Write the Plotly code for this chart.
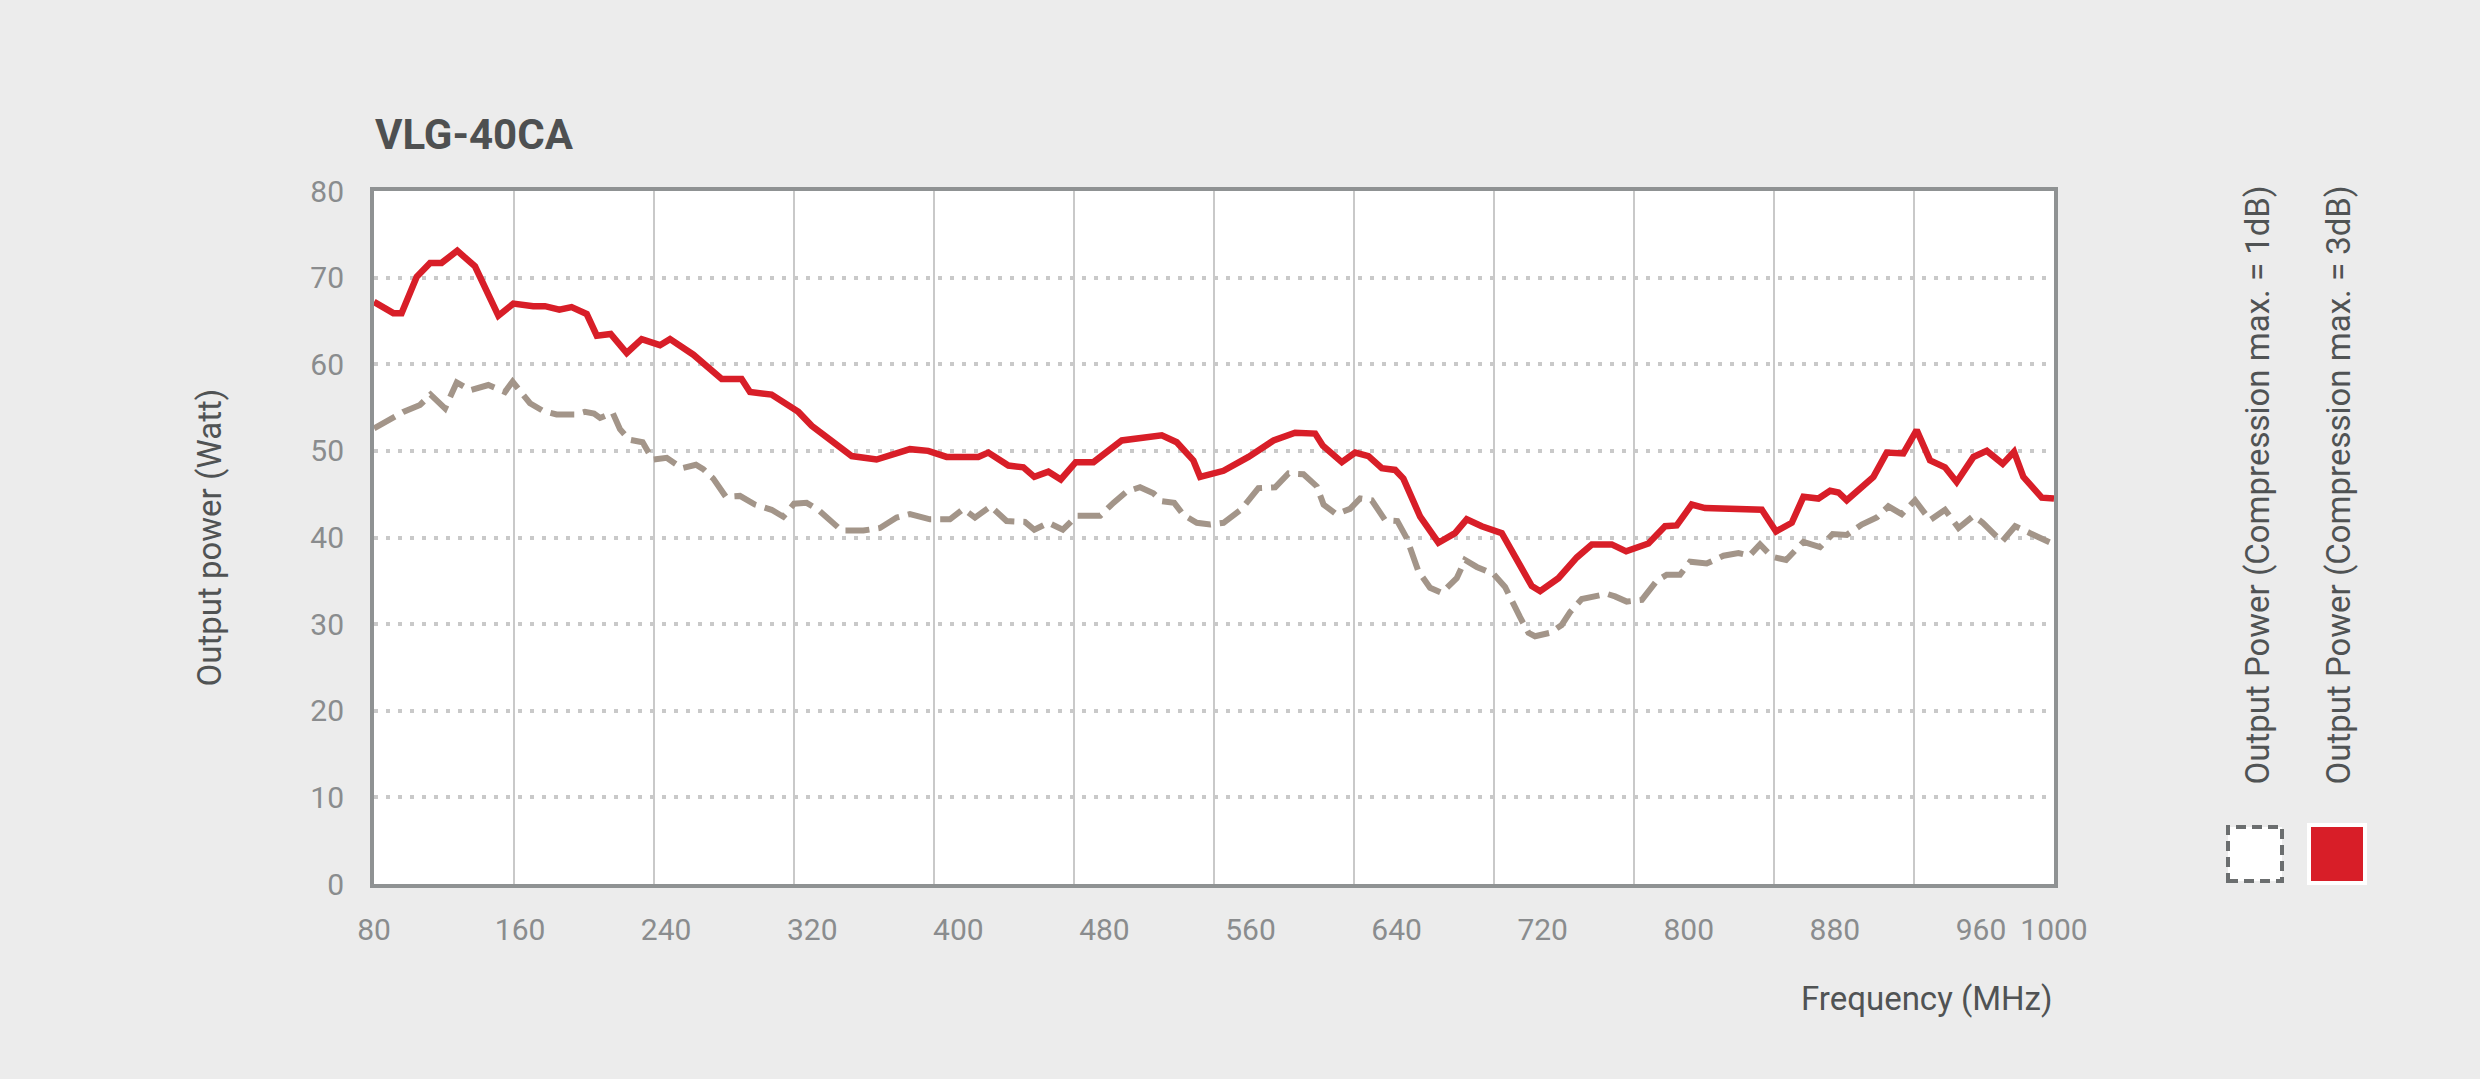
import plotly.graph_objects as go

# ---------------- data ----------------
freq_3db = [80, 90.6, 95.1, 103.4, 110.7, 117, 125.6, 135.3, 148.1, 156.3, 167.2, 173.6, 181.5, 188.2,
            196.5, 202, 209.6, 218.4, 226.6, 236.6, 242.1, 254.9, 270.4, 281.3, 285.9, 297.7, 312.4,
            319.7, 329.7, 341.6, 355.2, 364.4, 373.5, 383.5, 393.6, 404.5, 410.9, 416.4, 427.4, 435.6,
            441.6, 449.3, 456.1, 464.3, 474, 489.5, 499.5, 511.4, 519.6, 528.7, 532.4, 545.2, 558.9,
            572.6, 584.4, 595.4, 599.6, 610, 617.3, 624.6, 631.9, 639.2, 643.7, 652.9, 662.9, 672,
            678.4, 686.6, 697.6, 706.7, 714, 718.6, 728.6, 738.7, 746.9, 757.8, 765.7, 777.9, 787,
            793.4, 801.6, 808.9, 819, 840, 847.8, 856.4, 862.8, 871, 877.4, 882, 886.5, 893.8, 901.1,
            908.4, 917.5, 924.8, 932.1, 940.3, 946.7, 955.9, 963.2, 971.9, 978.1, 983.2, 993.3, 1000]
power_3db = [67.2, 65.9, 65.9, 70.1, 71.7, 71.7, 73.1, 71.3, 65.6, 67.0, 66.7, 66.7, 66.3, 66.6,
             65.8, 63.3, 63.5, 61.3, 62.9, 62.2, 62.9, 61.1, 58.3, 58.3, 56.8, 56.5, 54.5,
             52.9, 51.3, 49.4, 49.0, 49.7, 50.2, 50.0, 49.3, 49.3, 49.3, 49.8, 48.3, 48.1,
             47.0, 47.6, 46.7, 48.7, 48.7, 51.2, 51.5, 51.8, 51.0, 48.9, 47.0, 47.7, 49.3,
             51.2, 52.1, 52.0, 50.6, 48.7, 49.8, 49.4, 48.0, 47.8, 46.8, 42.4, 39.4, 40.5,
             42.1, 41.3, 40.5, 37.2, 34.4, 33.8, 35.3, 37.7, 39.2, 39.2, 38.4, 39.3, 41.3,
             41.4, 43.8, 43.4, 43.3, 43.2, 40.7, 41.7, 44.7, 44.5, 45.4, 45.2, 44.3, 45.6, 47.0,
             49.8, 49.7, 52.4, 48.9, 48.1, 46.4, 49.3, 50.0, 48.5, 49.9, 47.0, 44.6, 44.5]

freq_1db = [80, 96, 105.2, 111, 118.9, 125.3, 132.6, 142.6, 151.7, 155.9, 165.4, 172.7, 180, 190.1,
            195.5, 200.5, 203.8, 210.7, 214.7, 219.8, 227.1, 232.6, 240.3, 248.5, 256.3, 260.3,
            265.8, 272.7, 280.4, 288.6, 297.7, 304.1, 310, 316.9, 323.3, 327.9, 336.1, 348, 357.1,
            366.2, 373.5, 384.5, 395.4, 402.7, 409.1, 417.7, 426.4, 436.5, 441.6, 449.3, 457.2,
            464.9, 477.6, 484.9, 492.2, 499.5, 506.8, 511.4, 518.2, 523.3, 530.6, 537.9, 545.2,
            555.2, 564.3, 573.5, 580.8, 589, 596.3, 600, 606.9, 614.5, 620, 626.4, 633.7, 640.4,
            645.6, 651.9, 658.3, 664.7, 672.9, 677.5, 683.9, 693, 699.4, 707.6, 712.2, 715.8,
            724.1, 730.4, 735, 741.4, 755.1, 759.6, 766, 774.3, 782.5, 787.9, 795.2, 800.7, 809.8,
            819, 827.2, 833.2, 839, 845.4, 853.3, 862.8, 871.9, 878.8, 886.5, 894.7, 902.9, 909.3,
            916.6, 923.9, 932.1, 940.3, 947.7, 955.9, 961, 971.4, 978.7, 986.9, 1000]
power_1db = [52.6, 54.5, 55.3, 56.5, 54.9, 57.9, 57.0, 57.6, 56.8, 58.0, 55.5, 54.6, 54.2, 54.2,
             54.5, 54.3, 53.8, 54.4, 52.5, 51.3, 51.0, 49.0, 49.2, 48.0, 48.4, 47.9,
             46.8, 44.7, 44.8, 43.8, 43.2, 42.4, 43.9, 44.0, 43.2, 42.4, 40.8, 40.8, 41.1,
             42.3, 42.7, 42.1, 42.1, 43.3, 42.3, 43.6, 41.9, 41.8, 40.9, 41.7, 40.9,
             42.5, 42.5, 44.0, 45.3, 45.8, 45.1, 44.2, 44.0, 42.6, 41.7, 41.5, 41.7,
             43.3, 45.7, 45.8, 47.4, 47.3, 45.9, 43.8, 42.7, 43.3, 44.5, 44.3, 42.0, 41.9,
             39.9, 36.1, 34.2, 33.6, 35.3, 37.4, 36.6, 35.8, 34.3, 30.8, 29.0, 28.6,
             29.0, 29.9, 31.4, 32.9, 33.5, 33.2, 32.6, 32.8, 35.0, 35.7, 35.7, 37.2, 37.0,
             37.9, 38.2, 37.9, 39.2, 37.8, 37.4, 39.5, 38.9, 40.4, 40.3, 41.5, 42.3, 43.6,
             42.7, 44.3, 42.0, 43.2, 41.1, 42.5, 41.7, 39.5, 41.3, 40.5, 39.2]

x_ticks = [80, 160, 240, 320, 400, 480, 560, 640, 720, 800, 880, 960, 1000]
y_ticks = [0, 10, 20, 30, 40, 50, 60, 70, 80]

title_text = "VLG-40CA"
x_title = "Frequency (MHz)"
y_title = "Output power (Watt)"
name_1db = "Output Power (Compression max. = 1dB)"
name_3db = "Output Power (Compression max. = 3dB)"

# ---------------- styling ----------------
W, H = 2480, 1079
L, R, T, B = 374, 2054, 191, 884      # plot area in pixels
FONT = "Roboto, Liberation Sans, sans-serif"
RED = "#d81e28"
TAUPE = "#a39589"
BG = "#ececec"
BORDER = "#8f9293"
GRID = "#c9c9c9"
TXT = "#505354"
TICK = "#8a8c8e"


def px(xp):
    return (xp - L) / (R - L)


def py(yp):
    return (B - yp) / (B - T)


xmin, xmax = 80, 1000
fig = go.Figure()
fig.add_trace(go.Scatter(x=freq_1db, y=power_1db, mode="lines", name=name_1db,
                         line=dict(color=TAUPE, width=6, dash="24px,9px"), showlegend=False))
fig.add_trace(go.Scatter(x=freq_3db, y=power_3db, mode="lines", name=name_3db,
                         line=dict(color=RED, width=6.5), showlegend=False))

shapes = []
n_div = 12
for k in range(1, n_div):
    gx = xmin + k * (xmax - xmin) / n_div
    shapes.append(dict(type="line", xref="x", yref="paper", x0=gx, x1=gx, y0=0, y1=1,
                       line=dict(color=GRID, width=2), layer="below"))

# legend swatches
shapes.append(dict(type="rect", xref="paper", yref="paper",
                   x0=px(2228), x1=px(2282), y0=py(881), y1=py(827),
                   fillcolor="white", line=dict(color="#6b6e6f", width=4, dash="10px,6px")))
shapes.append(dict(type="rect", xref="paper", yref="paper",
                   x0=px(2309), x1=px(2365), y0=py(883), y1=py(825),
                   fillcolor=RED, line=dict(color="white", width=4)))

annotations = [
    dict(text=f"<b>{title_text}</b>", xref="paper", yref="paper", x=px(373), y=py(134),
         xanchor="left", yanchor="middle", showarrow=False,
         font=dict(family=FONT, size=42, color="#4e5051")),
    dict(text=y_title, xref="paper", yref="paper", x=px(209), y=0.5, textangle=-90,
         xanchor="center", yanchor="middle", showarrow=False,
         font=dict(family=FONT, size=33, color=TXT)),
    dict(text=x_title, xref="paper", yref="paper", x=1.0, y=py(999),
         xanchor="right", yanchor="middle", showarrow=False,
         font=dict(family=FONT, size=33, color=TXT)),
    dict(text=name_1db, xref="paper", yref="paper", x=px(2257), y=py(787), textangle=-90,
         xanchor="center", yanchor="bottom", showarrow=False,
         font=dict(family=FONT, size=33, color=TXT)),
    dict(text=name_3db, xref="paper", yref="paper", x=px(2338), y=py(787), textangle=-90,
         xanchor="center", yanchor="bottom", showarrow=False,
         font=dict(family=FONT, size=33, color=TXT)),
]

fig.update_layout(
    width=W, height=H, autosize=False,
    margin=dict(l=L, r=W - R, t=T, b=H - B, pad=0),
    paper_bgcolor=BG, plot_bgcolor="white",
    showlegend=False,
    shapes=shapes, annotations=annotations,
    xaxis=dict(range=[xmin, xmax], tickmode="array", tickvals=x_ticks,
               ticktext=[str(v) for v in x_ticks], showgrid=False, zeroline=False,
               showline=True, mirror=True, linewidth=4, linecolor=BORDER,
               ticks="", ticklabelstandoff=16,
               tickfont=dict(family=FONT, size=30, color=TICK)),
    yaxis=dict(range=[0, 80], tickmode="array", tickvals=y_ticks,
               showgrid=True, gridcolor=GRID, gridwidth=4, griddash="4px,8px",
               zeroline=False, showline=True, mirror=True, linewidth=4, linecolor=BORDER,
               ticks="", ticklabelstandoff=20,
               tickfont=dict(family=FONT, size=30, color=TICK)),
)

fig.write_html("out.html", config={"displayModeBar": False},
               post_script="document.body.style.margin='0';document.body.style.background='%s';" % BG)
